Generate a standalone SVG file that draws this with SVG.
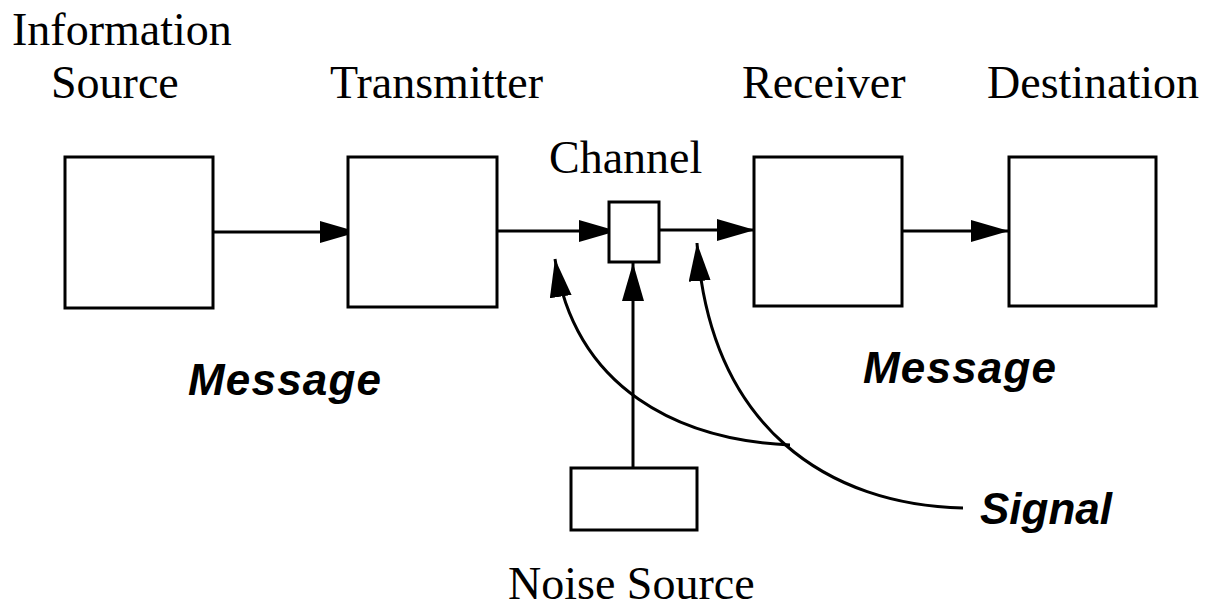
<svg xmlns="http://www.w3.org/2000/svg" width="1205" height="612" viewBox="0 0 1205 612">
  <style>
    .box { fill: #ffffff; stroke: #000000; stroke-width: 3; }
    .line { fill: none; stroke: #000000; stroke-width: 3; }
    .label { font-family: "Liberation Serif", "Times New Roman", serif; font-size: 46px; fill: #000000; }
    .tag { font-family: "Liberation Sans", Arial, sans-serif; font-size: 44px; font-weight: bold; font-style: italic; fill: #000000; }
    .wide { letter-spacing: 1.2px; }
  </style>
  <defs>
    <marker id="arrow" viewBox="0 0 38 22" markerUnits="userSpaceOnUse" markerWidth="38" markerHeight="22" refX="38" refY="11" orient="auto">
      <path d="M0,0 L38,11 L0,22 Z" fill="#000000"/>
    </marker>
  </defs>
  <rect width="1205" height="612" fill="#ffffff"/>

  <g id="connectors">
    <line class="line" x1="213" y1="232" x2="358" y2="232" marker-end="url(#arrow)"/>
    <line class="line" x1="497" y1="231" x2="617" y2="231" marker-end="url(#arrow)"/>
    <line class="line" x1="659" y1="230" x2="755" y2="230" marker-end="url(#arrow)"/>
    <line class="line" x1="903" y1="231" x2="1009" y2="231" marker-end="url(#arrow)"/>
    <line class="line" x1="633" y1="468" x2="633" y2="263" marker-end="url(#arrow)"/>
    <path class="line" d="M 790 445 C 680 440, 575 390, 555 259" marker-end="url(#arrow)"/>
    <path class="line" d="M 963 508 C 830 505, 710 430, 697 243" marker-end="url(#arrow)"/>
  </g>

  <g id="information-source">
    <rect class="box" x="65" y="157" width="148" height="151"/>
    <text class="label" x="12" y="45">Information</text>
    <text class="label" x="51" y="98">Source</text>
  </g>
  <g id="transmitter">
    <rect class="box" x="348" y="157" width="149" height="150"/>
    <text class="label" x="330" y="98">Transmitter</text>
  </g>
  <g id="channel">
    <rect class="box" x="609" y="202" width="50" height="60"/>
    <text class="label" x="549" y="173">Channel</text>
  </g>
  <g id="receiver">
    <rect class="box" x="754" y="157" width="148" height="149"/>
    <text class="label" x="742" y="98">Receiver</text>
  </g>
  <g id="destination">
    <rect class="box" x="1009" y="157" width="147" height="149"/>
    <text class="label" x="987" y="98">Destination</text>
  </g>
  <g id="noise-source">
    <rect class="box" x="571" y="468" width="126" height="62"/>
    <text class="label" x="508" y="599">Noise Source</text>
  </g>
  <g id="labels">
    <text class="tag wide" x="188" y="395">Message</text>
    <text class="tag wide" x="863" y="383">Message</text>
    <text class="tag" x="980" y="524">Signal</text>
  </g>
</svg>
